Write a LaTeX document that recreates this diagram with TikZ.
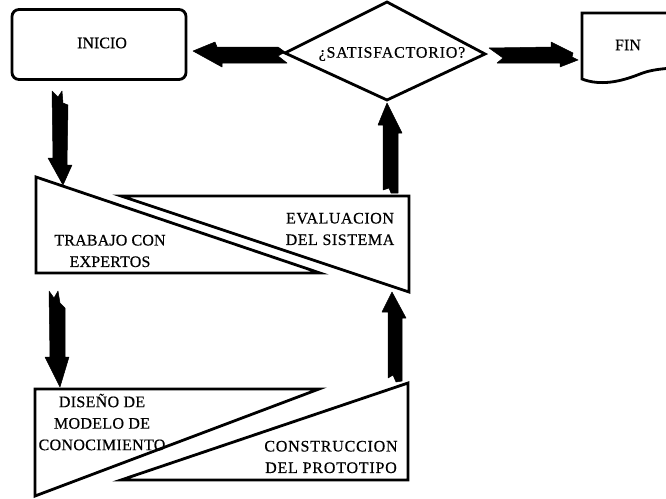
\documentclass[tikz,border=0pt]{standalone}
\usepackage{fontspec}
\setmainfont{Liberation Serif}
\newfontfamily\labelfont[RawFeature={embolden=0.5}]{Liberation Serif}
\newcommand{\spaced}[1]{\addfontfeature{LetterSpace=#1}}
\usetikzlibrary{shapes.geometric}
\tikzset{
  x=1pt,y=-1pt,
  outline/.style={draw=black,line width=2.8pt,line join=miter,fill=white},
  blockarrow/.style={fill=black,draw=black,line width=0.5pt,line join=round},
  label/.style={font=\labelfont\fontsize{16}{21.5}\selectfont,align=center,inner sep=0pt,text=black},
}
\begin{document}
\begin{tikzpicture}
\useasboundingbox (0,0) rectangle (666,498);
% --- shapes
\node[outline,rounded corners=7pt,minimum width=174pt,minimum height=70pt,inner sep=0pt] (inicio) at (99,44.5) {};
\coordinate (dw) at (285,53); \coordinate (dn) at (387,2); \coordinate (de) at (485,54); \coordinate (ds) at (387,100);
\draw[outline] (dw) -- (dn) -- (de) -- (ds) -- cycle;
\draw[outline] (672,13) -- (582,13) -- (582,79) .. controls (600,86) and (620,82) .. (640,74) .. controls (650,70) and (660,69) .. (672,68);
\coordinate (ta) at (36,177); \coordinate (tb) at (36,273); \coordinate (tc) at (320,273);
\draw[outline] (tc) -- (ta) -- (tb) -- cycle;
\coordinate (ea) at (121,196); \coordinate (eb) at (409,196); \coordinate (ec) at (409,292);
\draw[outline] (ea) -- (eb) -- (ec) -- cycle;
\coordinate (da) at (35,389); \coordinate (db) at (319,389); \coordinate (dc) at (35,496);
\draw[outline] (da) -- (db) -- (dc) -- cycle;
\coordinate (ca) at (121,480); \coordinate (cb) at (408,383); \coordinate (cc) at (408,480);
\draw[outline] (ca) -- (cb) -- (cc) -- cycle;
% --- labels
\node[label] (tinicio) at (102,43) {INICIO};
\node[label] (tsat) at (392,54) {\spaced{5}¿SATISFACTORIO?};
\node[label] (tfin) at (628,45) {FIN};
\node[label] (teval) at (340,229) {\spaced{3.5}EVALUACION\\\spaced{3.5}DEL SISTEMA};
\node[label] (ttrab) at (110,251) {\spaced{1}TRABAJO CON\\\spaced{1}EXPERTOS};
\node[label] (tdis) at (102,422) {\spaced{2}DISEÑO DE\\\spaced{2}MODELO DE\\\spaced{2}CONOCIMIENTO};
\node[label] (tcons) at (331,457) {\spaced{5}CONSTRUCCION\\\spaced{5}DEL PROTOTIPO};
% --- block arrows
\coordinate (a1tip) at (193,51);
\fill[blockarrow] (a1tip) -- (215,42) -- (217,47) -- (278,47) -- (285,52) -- (278,56) -- (287,63) -- (222,63) -- (222,67) -- cycle;
\coordinate (a2tip) at (578,60);
\fill[blockarrow] (a2tip) -- (560,67) -- (560,63) -- (497,63) -- (503,58) -- (489,48) -- (551,47) -- (551,42) -- (573,53) -- (572,57) -- cycle;
\coordinate (a3tip) at (387,103);
\fill[blockarrow] (a3tip) -- (378,125) -- (383,125) -- (383,190) -- (389,188) -- (391,193) -- (398,193) -- (398,133) -- (402,133) -- cycle;
\coordinate (a4tip) at (392,292);
\fill[blockarrow] (a4tip) -- (382,312) -- (388,312) -- (388,378) -- (393,375) -- (396,382) -- (402,381) -- (402,318) -- (406,318) -- cycle;
\coordinate (a5tip) at (63,185);
\fill[blockarrow] (a5tip) -- (72,165) -- (67,165) -- (68,105) -- (63,103) -- (62,91) -- (58,97) -- (52,91) -- (53,158) -- (48,158) -- cycle;
\coordinate (a6tip) at (60,387);
\fill[blockarrow] (a6tip) -- (69,357) -- (65,357) -- (65,308) -- (60,303) -- (58,291) -- (54,298) -- (49,291) -- (50,357) -- (45,357) -- cycle;
\end{tikzpicture}
\end{document}
